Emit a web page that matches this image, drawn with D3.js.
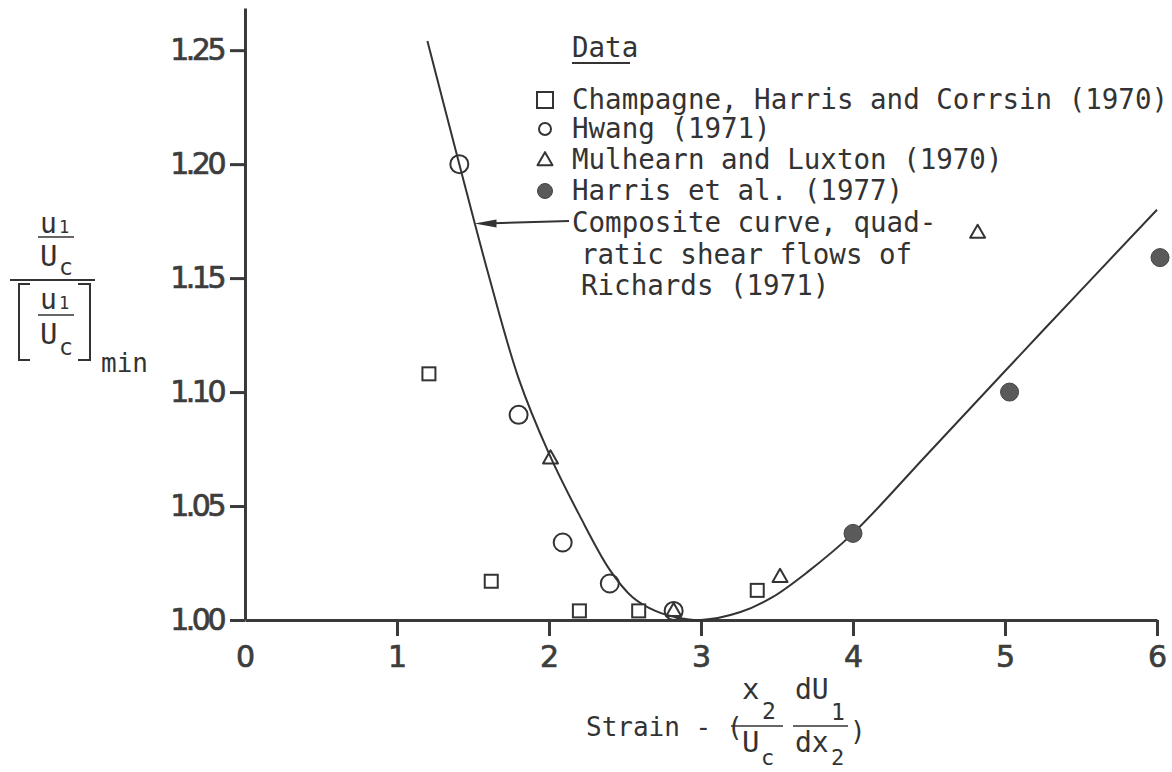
<!DOCTYPE html>
<html>
<head>
<meta charset="utf-8">
<script src="https://cdn.jsdelivr.net/npm/d3@7"></script>
<style>
  html, body { margin: 0; padding: 0; background: #fff; }
  svg { display: block; }
  .mono { font-family: "DejaVu Sans Mono", monospace; fill: #333; }
  .tick text { font-family: "DejaVu Sans", sans-serif; fill: #3d3d3d; stroke: #3d3d3d; stroke-width: 0.7px; }
</style>
</head>
<body>
<svg id="chart" width="1172" height="772"></svg>
<script>
// Measured turbulence ratio vs. strain, several experiments
const champagneX = [1.21, 1.62, 2.20, 2.59, 3.37];
const champagneY = [1.108, 1.017, 1.004, 1.004, 1.013];

const hwangX = [1.41, 1.80, 2.09, 2.40, 2.82];
const hwangY = [1.200, 1.090, 1.034, 1.016, 1.004];

const mulhearnX = [2.01, 2.82, 3.52, 4.82];
const mulhearnY = [1.071, 1.004, 1.019, 1.170];

const harrisX = [4.00, 5.03, 6.02];
const harrisY = [1.038, 1.100, 1.159];

// Composite curve (quadratic shear flows of Richards, 1971)
const curveX = [1.20, 1.41, 1.60, 1.80, 2.00, 2.20, 2.40, 2.55, 2.70, 2.85, 3.00, 3.26, 3.47, 3.70, 4.00, 4.50, 5.25, 6.00];
const curveY = [1.254, 1.200, 1.152, 1.106, 1.073, 1.046, 1.022, 1.010, 1.004, 1.001, 1.000, 1.0035, 1.010, 1.021, 1.038, 1.0735, 1.127, 1.180];

const xTicks = [0, 1, 2, 3, 4, 5, 6];
const yTicks = [1.00, 1.05, 1.10, 1.15, 1.20, 1.25];

const legendItems = [
  { shape: "square", label: "Champagne, Harris and Corrsin (1970)" },
  { shape: "circle", label: "Hwang (1971)" },
  { shape: "triangle", label: "Mulhearn and Luxton (1970)" },
  { shape: "dot", label: "Harris et al. (1977)" }
];
const curveLabel = ["Composite curve, quad-", "ratic shear flows of", "Richards (1971)"];
const arrowTarget = { x: 1.51, y: 1.174 };

const ink = "#333";
const svg = d3.select("#chart");

const x = d3.scaleLinear().domain([0, 6]).range([245, 1157]);
const y = d3.scaleLinear().domain([1.0, 1.2685]).range([620, 8]);

// Axes
const xAxis = svg.append("g")
  .attr("class", "x-axis")
  .attr("transform", `translate(0,${y(1.0)})`)
  .call(d3.axisBottom(x).tickValues(xTicks).tickFormat(d3.format("d"))
    .tickSize(16).tickSizeOuter(0).tickPadding(10));
xAxis.selectAll(".tick").filter(d => d === 0).select("line").remove();
xAxis.selectAll(".tick text").attr("font-size", 30);

const yAxis = svg.append("g")
  .attr("class", "y-axis")
  .attr("transform", `translate(${x(0)},0)`)
  .call(d3.axisLeft(y).tickValues(yTicks).tickFormat(d3.format(".2f"))
    .tickSize(15).tickSizeOuter(0).tickPadding(7));
yAxis.selectAll(".tick text").attr("font-size", 30).attr("letter-spacing", -3.5);

svg.selectAll(".x-axis path, .y-axis path, .x-axis line, .y-axis line")
  .attr("stroke", "#3a3a3a").attr("stroke-width", 3);

// Composite curve
const curvePts = curveX.map((v, i) => [v, curveY[i]]);
svg.append("path")
  .datum(curvePts)
  .attr("fill", "none")
  .attr("stroke", ink)
  .attr("stroke-width", 2)
  .attr("d", d3.line().x(d => x(d[0])).y(d => y(d[1])).curve(d3.curveCatmullRom.alpha(0.5)));

// Marker drawing
function drawMarker(g, shape, cx, cy, size) {
  if (shape === "square") {
    g.append("rect").attr("x", cx - size / 2).attr("y", cy - size / 2)
      .attr("width", size).attr("height", size)
      .attr("fill", "#fff").attr("stroke", ink).attr("stroke-width", 2);
  } else if (shape === "circle") {
    g.append("circle").attr("cx", cx).attr("cy", cy).attr("r", size / 2)
      .attr("fill", "none").attr("stroke", ink).attr("stroke-width", 2);
  } else if (shape === "triangle") {
    const h = size * 0.87;
    g.append("path")
      .attr("d", `M${cx},${cy - h * 0.6}L${cx + size / 2},${cy + h * 0.4}L${cx - size / 2},${cy + h * 0.4}Z`)
      .attr("fill", "none").attr("stroke", ink).attr("stroke-width", 2).attr("stroke-linejoin", "round");
  } else if (shape === "dot") {
    g.append("circle").attr("cx", cx).attr("cy", cy).attr("r", size / 2)
      .attr("fill", "#5a5a5a").attr("stroke", "#444").attr("stroke-width", 1);
  }
}

const pts = svg.append("g").attr("class", "points");
champagneX.forEach((v, i) => drawMarker(pts, "square", x(v), y(champagneY[i]), 13));
hwangX.forEach((v, i) => drawMarker(pts, "circle", x(v), y(hwangY[i]), 18));
mulhearnX.forEach((v, i) => drawMarker(pts, "triangle", x(v), y(mulhearnY[i]), 15));
harrisX.forEach((v, i) => drawMarker(pts, "dot", x(v), y(harrisY[i]), 18));

// Legend
const lg = svg.append("g").attr("class", "legend");
lg.append("text").attr("class", "mono").attr("x", 572).attr("y", 57)
  .attr("font-size", 27.5).text("Data");
lg.append("line").attr("x1", 572).attr("x2", 630).attr("y1", 63).attr("y2", 63)
  .attr("stroke", ink).attr("stroke-width", 2);

const rowBase = [109, 138, 169, 200];
const markerSize = { square: 16, circle: 12, triangle: 15, dot: 15 };
legendItems.forEach((d, i) => {
  drawMarker(lg, d.shape, 545, rowBase[i] - 9, markerSize[d.shape]);
  lg.append("text").attr("class", "mono").attr("x", 572).attr("y", rowBase[i])
    .attr("font-size", 27.5).text(d.label);
});
const curveRows = [232, 264, 295];
curveLabel.forEach((t, i) => {
  lg.append("text").attr("class", "mono").attr("x", i === 0 ? 572 : 581).attr("y", curveRows[i])
    .attr("font-size", 27.5).text(t);
});

// Arrow from the curve label to the curve
const tipX = x(arrowTarget.x), tipY = y(arrowTarget.y);
lg.append("line").attr("x1", 569).attr("y1", 221).attr("x2", tipX + 10).attr("y2", tipY)
  .attr("stroke", ink).attr("stroke-width", 2);
lg.append("path")
  .attr("d", `M${tipX},${tipY}L${tipX + 22},${tipY - 4}L${tipX + 22},${tipY + 4}Z`)
  .attr("fill", ink);

// Y-axis title: (u1/Uc) / [u1/Uc]min
const yt = svg.append("g").attr("class", "y-title");
function sub(g, base, subTxt, bx, by, bSize, sx, sy, sSize) {
  g.append("text").attr("class", "mono").attr("x", bx).attr("y", by).attr("font-size", bSize).text(base);
  g.append("text").attr("class", "mono").attr("x", sx).attr("y", sy).attr("font-size", sSize).text(subTxt);
}
sub(yt, "u", "1", 40, 233, 28, 59, 233, 17);
yt.append("line").attr("x1", 38).attr("x2", 74).attr("y1", 237).attr("y2", 237).attr("stroke", ink).attr("stroke-width", 1.5);
sub(yt, "U", "c", 40, 266, 29, 59, 275, 23);
yt.append("line").attr("x1", 10).attr("x2", 95).attr("y1", 280).attr("y2", 280).attr("stroke", ink).attr("stroke-width", 2);
yt.append("path").attr("d", "M30,284H19V360H30").attr("fill", "none").attr("stroke", ink).attr("stroke-width", 2);
yt.append("path").attr("d", "M78,284H90V360H78").attr("fill", "none").attr("stroke", ink).attr("stroke-width", 2);
sub(yt, "u", "1", 40, 309, 28, 59, 309, 17);
yt.append("line").attr("x1", 38).attr("x2", 74).attr("y1", 315).attr("y2", 315).attr("stroke", ink).attr("stroke-width", 1.5);
sub(yt, "U", "c", 40, 344, 29, 59, 355, 23);
yt.append("text").attr("class", "mono").attr("x", 101).attr("y", 372).attr("font-size", 26).text("min");

// X-axis title: Strain - (x2/Uc dU1/dx2)
const xt = svg.append("g").attr("class", "x-title");
xt.append("text").attr("class", "mono").attr("x", 586).attr("y", 736).attr("font-size", 26).text("Strain - (");
sub(xt, "x", "2", 742, 699, 29, 762, 719, 23);
xt.append("line").attr("x1", 731).attr("x2", 783).attr("y1", 726).attr("y2", 726).attr("stroke", ink).attr("stroke-width", 1.5);
sub(xt, "U", "c", 742, 752, 29, 761, 765, 22);
sub(xt, "dU", "1", 795, 699, 28, 831, 720, 23);
xt.append("line").attr("x1", 793).attr("x2", 848).attr("y1", 726).attr("y2", 726).attr("stroke", ink).attr("stroke-width", 1.5);
sub(xt, "dx", "2", 795, 752, 28, 831, 765, 22);
xt.append("text").attr("class", "mono").attr("x", 850).attr("y", 740).attr("font-size", 26).text(")");
</script>
</body>
</html>
